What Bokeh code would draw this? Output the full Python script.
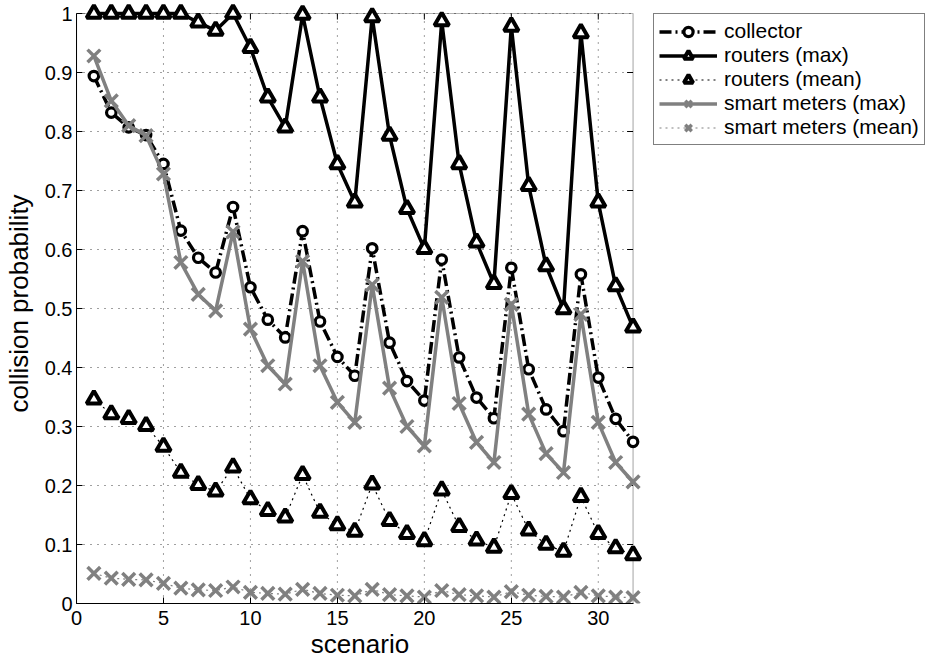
from bokeh.plotting import figure
from bokeh.layouts import row
from bokeh.models import Range1d, Legend, LegendItem, BoxAnnotation, FixedTicker
from bokeh.embed import file_html
from bokeh.resources import INLINE

# ---------------- data ----------------
scenario = list(range(1, 33))
collector = [0.894, 0.832, 0.807, 0.794, 0.745, 0.632, 0.586, 0.561, 0.672, 0.536,
             0.481, 0.451, 0.631, 0.478, 0.418, 0.386, 0.602, 0.442, 0.377, 0.344,
             0.583, 0.417, 0.349, 0.314, 0.569, 0.397, 0.329, 0.292, 0.558, 0.383,
             0.313, 0.274]
routers_max = [1.0, 1.0, 1.0, 1.0, 1.0, 1.0, 0.985, 0.971, 1.0, 0.942,
               0.858, 0.807, 0.998, 0.858, 0.745, 0.680, 0.994, 0.793, 0.669, 0.601,
               0.987, 0.745, 0.612, 0.542, 0.978, 0.708, 0.572, 0.499, 0.967, 0.680,
               0.538, 0.468]
routers_mean = [0.346, 0.321, 0.313, 0.301, 0.266, 0.222, 0.201, 0.190, 0.231, 0.177,
                0.157, 0.146, 0.218, 0.154, 0.133, 0.122, 0.202, 0.140, 0.118, 0.106,
                0.192, 0.130, 0.107, 0.095, 0.186, 0.124, 0.100, 0.088, 0.181, 0.118,
                0.094, 0.082]
smart_max = [0.928, 0.852, 0.810, 0.793, 0.728, 0.578, 0.524, 0.496, 0.630, 0.465,
             0.403, 0.372, 0.580, 0.403, 0.341, 0.307, 0.540, 0.365, 0.300, 0.267,
             0.519, 0.339, 0.273, 0.239, 0.507, 0.321, 0.254, 0.222, 0.490, 0.307,
             0.239, 0.206]
smart_mean = [0.051, 0.043, 0.041, 0.040, 0.034, 0.026, 0.023, 0.022, 0.028, 0.019,
              0.017, 0.016, 0.024, 0.017, 0.014, 0.013, 0.024, 0.015, 0.013, 0.011,
              0.022, 0.015, 0.013, 0.011, 0.020, 0.014, 0.012, 0.011, 0.019, 0.013,
              0.011, 0.010]
series_labels = ["collector", "routers (max)", "routers (mean)",
                 "smart meters (max)", "smart meters (mean)"]

x_ticks = [0, 5, 10, 15, 20, 25, 30]
x_tick_labels = ["0", "5", "10", "15", "20", "25", "30"]
y_ticks = [0, 0.1, 0.2, 0.3, 0.4, 0.5, 0.6, 0.7, 0.8, 0.9, 1.0]
y_tick_labels = ["0", "0.1", "0.2", "0.3", "0.4", "0.5", "0.6", "0.7", "0.8", "0.9", "1"]
x_limits = [0, 32]
y_limits = [0, 1]

# ---------------- layout / style ----------------
FONT = "Liberation Sans"
GRAY = "#808080"
W_MAIN, W_LEG, H = 643, 297, 662
BL, BT, BB = 76, 3, 59
FRAME_W, FRAME_H = W_MAIN - BL, H - BT - BB
X_END = 32.6                      # a little room so edge markers are not clipped
Y_END = FRAME_H / 590.0           # 590 px per unit of probability
TICK_PX = 6
tick_dx = TICK_PX * X_END / FRAME_W
tick_dy = TICK_PX * Y_END / FRAME_H

# style of each series: (line kwargs, marker kwargs)
styles = [
    (dict(line_color="black", line_width=3.5, line_dash="12 4 2 4"),
     dict(marker="circle", size=9.5, line_color="black", line_width=3.2, fill_color="white")),
    (dict(line_color="black", line_width=3.5),
     dict(marker="triangle", size=14.5, line_color="black", line_width=4, fill_color="white")),
    (dict(line_color="black", line_width=1.2, line_dash="2 4"),
     dict(marker="triangle", size=14.5, line_color="black", line_width=4, fill_color="white")),
    (dict(line_color=GRAY, line_width=3.5),
     dict(marker="x", size=18, line_color=GRAY, line_width=3.5)),
    (dict(line_color=GRAY, line_width=1.2, line_dash="2 4"),
     dict(marker="x", size=18, line_color=GRAY, line_width=3.5)),
]
series_values = [collector, routers_max, routers_mean, smart_max, smart_mean]

p = figure(width=W_MAIN, height=H, output_backend="svg", toolbar_location=None,
           x_range=Range1d(0, X_END), y_range=Range1d(0, Y_END),
           min_border_left=BL, min_border_right=0, min_border_top=BT,
           min_border_bottom=BB,
           x_axis_label="scenario", y_axis_label="collision probability")
p.outline_line_color = None
p.grid.visible = False
p.background_fill_color = "white"
p.border_fill_color = "white"

for ax, ticks, labels, bnds in ((p.xaxis[0], x_ticks, x_tick_labels, x_limits),
                                (p.yaxis[0], y_ticks, y_tick_labels, y_limits)):
    ax.ticker = FixedTicker(ticks=ticks)
    ax.major_label_overrides = {t: l for t, l in zip(ticks, labels)}
    ax.bounds = tuple(bnds)
    ax.major_tick_in = TICK_PX
    ax.major_tick_out = 0
    ax.minor_tick_line_color = None
    ax.axis_line_color = "black"
    ax.major_tick_line_color = "black"
    ax.major_label_text_font = FONT
    ax.major_label_text_font_size = "20px"
    ax.major_label_text_color = "black"
    ax.axis_label_text_font = FONT
    ax.axis_label_text_font_size = "26px"
    ax.axis_label_text_font_style = "normal"
    ax.axis_label_text_color = "black"
p.xaxis[0].major_label_standoff = 7
p.xaxis[0].axis_label_standoff = 1
p.yaxis[0].major_label_standoff = 4
p.yaxis[0].axis_label_standoff = 8

# dotted grid confined to the box
nx, ny = len(x_ticks) - 1, len(y_ticks) - 1
p.segment(x0=x_ticks[1:], y0=[y_limits[0]] * nx, x1=x_ticks[1:], y1=[y_limits[1]] * nx,
          line_color="black", line_width=1, line_dash="1 6", line_alpha=0.75)
p.segment(x0=[x_limits[0]] * ny, y0=y_ticks[1:], x1=[x_limits[1]] * ny, y1=y_ticks[1:],
          line_color="black", line_width=1, line_dash="1 6", line_alpha=0.75)

# inward ticks on the top and right edges of the box
p.segment(x0=x_ticks[1:], y0=[y_limits[1]] * nx, x1=x_ticks[1:],
          y1=[y_limits[1] - tick_dy] * nx, line_color="black", line_width=1)
p.segment(x0=[x_limits[1]] * (ny - 1), y0=y_ticks[1:-1],
          x1=[x_limits[1] - tick_dx] * (ny - 1), y1=y_ticks[1:-1],
          line_color="black", line_width=1)

# box
p.add_layout(BoxAnnotation(left=x_limits[0], right=x_limits[1], bottom=y_limits[0],
                           top=y_limits[1], fill_color=None, line_color="black",
                           line_width=1.2, level="underlay"))

# ---------------- series ----------------
for vals, (lkw, mkw) in zip(series_values, styles):
    p.line(scenario, vals, **lkw)
    p.scatter(scenario, vals, **mkw)

# ---------------- legend panel (series drawn out of view, only the key shows) ----------
pl = figure(width=W_LEG, height=H, output_backend="svg", toolbar_location=None,
            x_axis_location=None, y_axis_location=None,
            x_range=Range1d(-3, -2), y_range=Range1d(-3, -2),
            min_border_left=0, min_border_right=0, min_border_top=3,
            min_border_bottom=0)
pl.outline_line_color = None
pl.grid.visible = False
pl.background_fill_color = "white"
pl.border_fill_color = "white"

items = []
for label, vals, (lkw, mkw) in zip(series_labels, series_values, styles):
    lr = pl.line(scenario, vals, **lkw)
    mr = pl.scatter(scenario, vals, **mkw)
    items.append(LegendItem(label=label, renderers=[lr, mr]))

legend = Legend(items=items, location="top_left", orientation="vertical",
                label_text_font=FONT, label_text_font_size="21px",
                label_text_color="black", label_height=23, glyph_height=23,
                glyph_width=58, label_standoff=7, spacing=0, padding=5, margin=10,
                border_line_color="black", border_line_width=1,
                background_fill_color="white", background_fill_alpha=1.0)
pl.add_layout(legend)

layout = row(p, pl)
open("out.html", "w").write(file_html(layout, INLINE))
